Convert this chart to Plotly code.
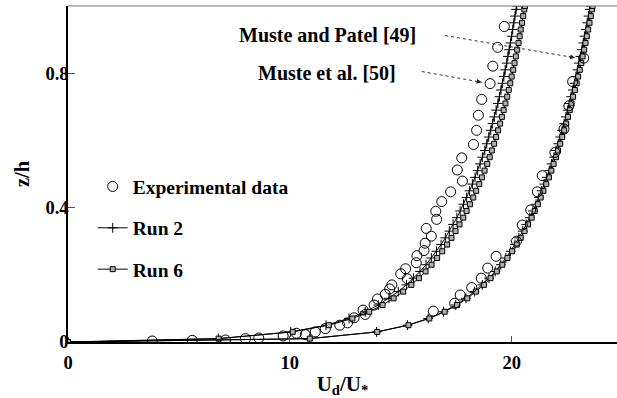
import plotly.graph_objects as go

# ---------------- data ----------------
z_model = [0, 0.01, 0.03, 0.05, 0.07, 0.09, 0.11, 0.13, 0.15, 0.17, 0.19, 0.21, 0.23, 0.25,
           0.27, 0.29, 0.31, 0.33, 0.35, 0.37, 0.39, 0.41, 0.43, 0.45, 0.47, 0.49, 0.51,
           0.53, 0.55, 0.57, 0.59, 0.61, 0.63, 0.65, 0.67, 0.69, 0.71, 0.73, 0.75, 0.77,
           0.79, 0.81, 0.83, 0.85, 0.87, 0.89, 0.91, 0.93, 0.95, 0.97, 0.99, 1.0]

# Muste et al. [50] case
run2_a = [0, 6.78, 10.04, 11.63, 12.67, 13.40, 13.99, 14.47, 14.89, 15.26, 15.58, 15.87, 16.14,
          16.38, 16.61, 16.82, 17.01, 17.19, 17.36, 17.53, 17.68, 17.83, 17.97, 18.10, 18.23,
          18.35, 18.47, 18.58, 18.68, 18.79, 18.88, 18.97, 19.06, 19.14, 19.22, 19.30, 19.38,
          19.45, 19.52, 19.59, 19.65, 19.71, 19.78, 19.83, 19.89, 19.95, 20.00, 20.05, 20.10,
          20.15, 20.20, 20.23]
run6_a = [0, 6.79, 10.13, 11.76, 12.82, 13.58, 14.18, 14.68, 15.11, 15.48, 15.82, 16.12, 16.39,
          16.64, 16.87, 17.09, 17.29, 17.47, 17.65, 17.82, 17.97, 18.12, 18.27, 18.40, 18.54,
          18.66, 18.78, 18.90, 19.01, 19.11, 19.21, 19.30, 19.39, 19.48, 19.56, 19.64, 19.72,
          19.80, 19.87, 19.94, 20.00, 20.07, 20.13, 20.19, 20.25, 20.31, 20.36, 20.41, 20.47,
          20.52, 20.57, 20.60]

# Muste and Patel [49] case
run2_b = [0, 10.89, 13.91, 15.31, 16.24, 16.93, 17.48, 17.94, 18.33, 18.68, 18.98, 19.26, 19.51,
          19.74, 19.95, 20.15, 20.33, 20.50, 20.66, 20.82, 20.96, 21.10, 21.23, 21.35, 21.47,
          21.59, 21.70, 21.80, 21.91, 22.00, 22.10, 22.19, 22.28, 22.37, 22.45, 22.53, 22.61,
          22.68, 22.76, 22.83, 22.90, 22.97, 23.04, 23.10, 23.17, 23.23, 23.29, 23.35, 23.41,
          23.47, 23.52, 23.55]
run6_b = [0, 10.90, 13.94, 15.35, 16.29, 16.98, 17.54, 18.00, 18.39, 18.75, 19.05, 19.33, 19.58,
          19.81, 20.02, 20.23, 20.41, 20.58, 20.74, 20.90, 21.04, 21.18, 21.31, 21.43, 21.56,
          21.68, 21.79, 21.89, 22.00, 22.09, 22.19, 22.28, 22.37, 22.46, 22.54, 22.62, 22.70,
          22.77, 22.85, 22.93, 23.00, 23.07, 23.14, 23.20, 23.27, 23.33, 23.39, 23.45, 23.51,
          23.57, 23.62, 23.65]

# experimental data, Muste et al. [50]
exp_a_u = [3.8, 5.6, 7.1, 8.0, 8.6, 9.7, 10.3, 10.7, 11.15, 11.6, 12.25, 12.6, 12.9, 13.4, 13.3,
           13.8, 13.95, 14.3, 14.5, 14.6, 15.3, 15.0, 15.22, 15.7, 15.73, 16.05, 16.1, 16.38,
           16.15, 16.62, 16.58, 16.85, 17.25, 17.78, 17.55, 17.75, 18.28, 18.42, 18.5, 18.65,
           19.03, 19.15, 19.37, 19.67]
exp_a_z = [0.003, 0.005, 0.006, 0.010, 0.012, 0.018, 0.026, 0.022, 0.030, 0.040, 0.050, 0.057,
           0.072, 0.082, 0.095, 0.110, 0.128, 0.142, 0.158, 0.170, 0.188, 0.203, 0.218, 0.236,
           0.257, 0.272, 0.294, 0.315, 0.338, 0.365, 0.389, 0.418, 0.447, 0.479, 0.512, 0.548,
           0.588, 0.630, 0.675, 0.722, 0.769, 0.821, 0.877, 0.939]

# experimental data, Muste and Patel [49]
exp_b_u = [16.47, 17.43, 17.68, 18.2, 18.63, 18.92, 19.3, 20.22, 20.48, 20.86, 21.16, 21.38,
           21.95, 22.36, 22.58, 22.75, 23.25]
exp_b_z = [0.092, 0.115, 0.140, 0.162, 0.190, 0.220, 0.255, 0.300, 0.348, 0.393, 0.447, 0.495,
           0.564, 0.634, 0.703, 0.775, 0.845]

x_ticks = [0, 10, 20]
y_ticks = [0, 0.4, 0.8]

# ---------------- figure ----------------
FONT = "Liberation Serif, Times New Roman, serif"
fig = go.Figure()

plus_style = dict(symbol="cross-thin-open", size=7, color="black", line=dict(width=1, color="black"))
sq_style = dict(symbol="square", size=5, color="#b0b0b0", line=dict(width=1, color="black"))
line_style = dict(color="black", width=1)
circ = dict(symbol="circle-open", size=10, color="black", line=dict(width=1, color="black"))

fig.add_trace(go.Scatter(x=exp_a_u, y=exp_a_z, mode="markers", name="Experimental data",
                         marker=circ, legendgroup="g1"))
fig.add_trace(go.Scatter(x=run2_a, y=z_model, mode="lines+markers", name="Run 2",
                         line=line_style, marker=plus_style, legendgroup="g2"))
fig.add_trace(go.Scatter(x=run6_a, y=z_model, mode="lines+markers", name="Run 6",
                         line=line_style, marker=sq_style, legendgroup="g3"))
fig.add_trace(go.Scatter(x=run2_b, y=z_model, mode="lines+markers", name="Run 2",
                         line=line_style, marker=plus_style, showlegend=False, legendgroup="g2"))
fig.add_trace(go.Scatter(x=run6_b, y=z_model, mode="lines+markers", name="Run 6",
                         line=line_style, marker=sq_style, showlegend=False, legendgroup="g3"))
fig.add_trace(go.Scatter(x=exp_b_u, y=exp_b_z, mode="markers", name="Experimental data",
                         marker=circ, showlegend=False, legendgroup="g1"))

# annotations (labels and dotted arrows)
labels = [("Muste and Patel [49]", 11.68, 0.915, 17.0, 0.912, 22.86, 0.846),
          ("Muste et al. [50]", 11.68, 0.802, 15.95, 0.805, 18.65, 0.773)]
for txt, tx, ty, x0, y0, x1, y1 in labels:
    fig.add_annotation(x=tx, y=ty, text=txt, showarrow=False, xref="x", yref="y",
                       font=dict(family=FONT, size=20, color="black", weight="bold"))
    fig.add_shape(type="line", xref="x", yref="y", x0=x0, y0=y0, x1=x1, y1=y1,
                  line=dict(color="#333333", width=1, dash="dot"))
    fig.add_annotation(x=x1, y=y1, ax=x1 - (x1 - x0) * 0.06, ay=y1 - (y1 - y0) * 0.06,
                       axref="x", ayref="y", xref="x", yref="y", text="", showarrow=True,
                       arrowhead=2, arrowsize=1, arrowwidth=1, arrowcolor="#222222")

# top frame line
fig.add_shape(type="line", xref="paper", yref="paper", x0=0, x1=1, y0=1, y1=1,
              line=dict(color="#777777", width=1.2))

fig.update_layout(
    width=617, height=398,
    margin=dict(l=68, r=0, t=6, b=56),
    paper_bgcolor="white", plot_bgcolor="white",
    font=dict(family=FONT, color="black"),
    showlegend=True,
    legend=dict(x=0.045, y=0.52, xanchor="left", yanchor="top",
                font=dict(family=FONT, size=19.5, color="black", weight="bold"),
                bgcolor="rgba(0,0,0,0)", tracegroupgap=13, traceorder="grouped"),
    xaxis=dict(range=[0, 24.75], tickvals=x_ticks, ticktext=[str(v) for v in x_ticks],
               showgrid=False, zeroline=False, showline=True, linecolor="black", linewidth=2,
               ticks="inside", ticklen=6, tickcolor="#555555", tickwidth=1,
               ticklabelstandoff=3,
               tickfont=dict(family=FONT, size=18.5, color="black", weight="bold"),
               title=dict(text="U<sub>d</sub>/U<sub>*</sub>", standoff=10,
                          font=dict(family=FONT, size=21, color="black", weight="bold"))),
    yaxis=dict(range=[0, 1.0], tickvals=y_ticks, ticktext=["0", "0.4", "0.8"],
               showgrid=False, zeroline=False, showline=True, linecolor="black", linewidth=1.5,
               ticks="inside", ticklen=7, tickcolor="#555555", tickwidth=1,
               ticklabelstandoff=-6,
               tickfont=dict(family=FONT, size=18.5, color="black", weight="bold"),
               title=dict(text="z/h", standoff=10,
                          font=dict(family=FONT, size=20.5, color="black", weight="bold"))),
)

fig.write_html("out.html")
